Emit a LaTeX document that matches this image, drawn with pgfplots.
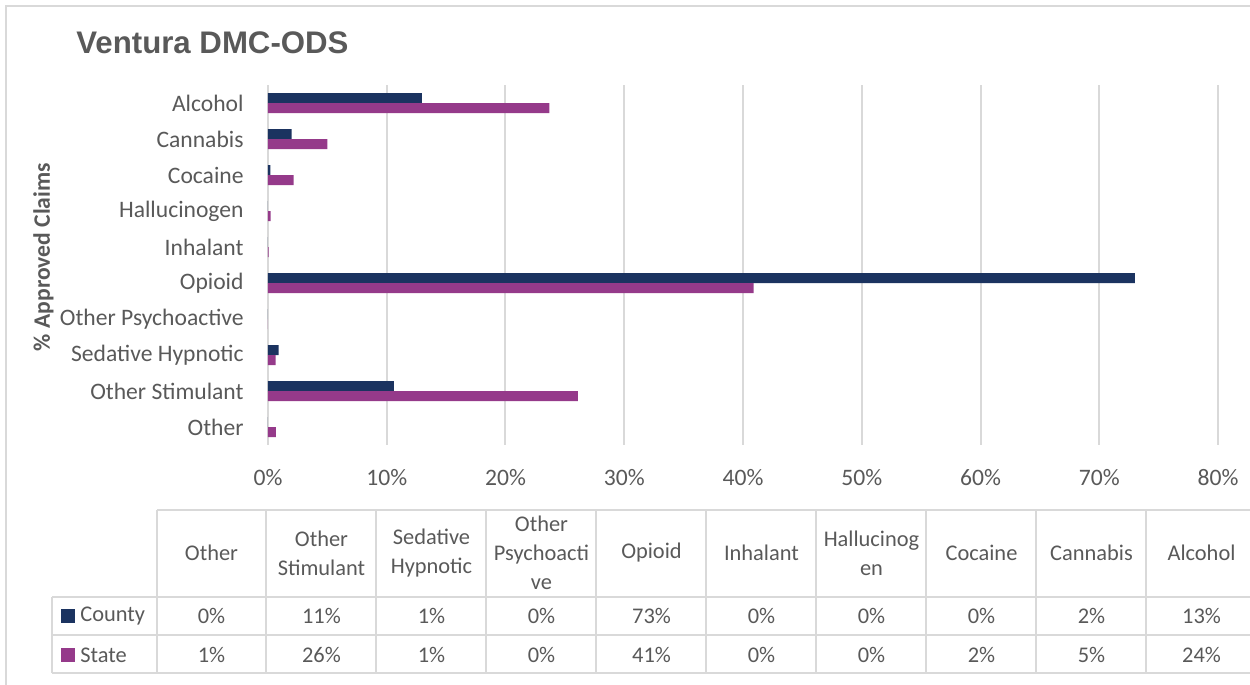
\documentclass[border=0pt]{standalone}
\usepackage{fontspec}
\setmainfont{Carlito}
\newfontfamily\titlefont{Liberation Sans}
\usepackage{pgfplots}
\pgfplotsset{compat=1.18}
\definecolor{county}{HTML}{1B3360}
\definecolor{state}{HTML}{953A8A}
\definecolor{txt}{HTML}{595959}
\definecolor{grd}{HTML}{D9D9D9}
\newcommand\lf{\fontsize{11.8}{14}\selectfont}
\newcommand\tf{\fontsize{11.2}{14.5}\selectfont}
\begin{document}
\begin{tikzpicture}
\begin{scope}[x=0.5pt,y=-0.5pt]
\useasboundingbox (0,0) rectangle (1250,685);
\draw[grd, line width=1pt] (6,685) -- (6,6) -- (1250,6);
\node[anchor=west, text=txt, font=\titlefont\bfseries\fontsize{15.6}{18}\selectfont, inner sep=0] at (76,43) {Ventura DMC-ODS};
\node[rotate=90, text=txt, font=\lf\bfseries] at (43.5,257) {\% Approved Claims};
% table grid
\draw[grd, line width=1pt] (157,510) -- (1250,510);
\foreach \yy in {597,635,673} \draw[grd, line width=1pt] (52,\yy) -- (1250,\yy);
\draw[grd, line width=1pt] (52,597) -- (52,673);
\foreach \xx in {157,266,376,486,596,706,816,926,1036,1146} \draw[grd, line width=1pt] (\xx,510) -- (\xx,673);
% headers
\foreach \h [count=\i from 0] in {{Other},{Other\\Stimulant},{Sedative\\Hypnotic},{Other\\Psychoacti\\ve},{Opioid},{Inhalant},{Hallucinog\\en},{Cocaine},{Cannabis},{Alcohol}}
  \node[align=center, text=txt, font=\tf, inner sep=0] at (211.5+110*\i,553) {\h};
\foreach \v [count=\i from 0] in {0,11,1,0,73,0,0,0,2,13}
  \node[text=txt, font=\tf, inner sep=0] at (211.5+110*\i,616) {\v\%};
\foreach \v [count=\i from 0] in {1,26,1,0,41,0,0,2,5,24}
  \node[text=txt, font=\tf, inner sep=0] at (211.5+110*\i,655) {\v\%};
\fill[county] (61,609) rectangle (75,623);
\fill[state] (61,648) rectangle (75,662);
\node[anchor=west, text=txt, font=\tf, inner sep=0] at (80,616) {County};
\node[anchor=west, text=txt, font=\tf, inner sep=0] at (80,655) {State};
\end{scope}
\begin{axis}[at={(134pt,-222.5pt)}, anchor=south west,
  scale only axis, width=475pt, height=180pt,
  xbar=0pt, bar width=5pt,
  xmin=0, xmax=80, ymin=-0.5, ymax=9.5, y dir=reverse,
  enlargelimits=false,
  axis line style={draw=none}, tick style={draw=none}, major tick length=0pt,
  xmajorgrids, major grid style={grd, line width=1pt},
  xtick={0,10,...,80}, xticklabel={\pgfmathprintnumber{\tick}\%},
  ytick={0,...,9},
  yticklabels={Alcohol,Cannabis,Cocaine,Hallucinogen,Inhalant,Opioid,Other Psychoactive,Sedative Hypnotic,Other Stimulant,Other},
  tick label style={text=txt, font=\lf},
  /pgf/number format/assume math mode=true,
  xticklabel style={inner sep=0pt, yshift=-12pt},
  yticklabel style={inner sep=0pt, xshift=-12pt},
]
\addplot[fill=county, draw=none, bar shift=2.5pt] coordinates {(12.95,0) (2.0,1) (0.2,2) (0,3) (0,4) (73.0,5) (0,6) (0.9,7) (10.6,8) (0,9)};
\addplot[fill=state, draw=none, bar shift=-2.5pt] coordinates {(23.7,0) (5.0,1) (2.15,2) (0.22,3) (0.05,4) (40.9,5) (0,6) (0.65,7) (26.1,8) (0.67,9)};
\end{axis}
\end{tikzpicture}
\end{document}
